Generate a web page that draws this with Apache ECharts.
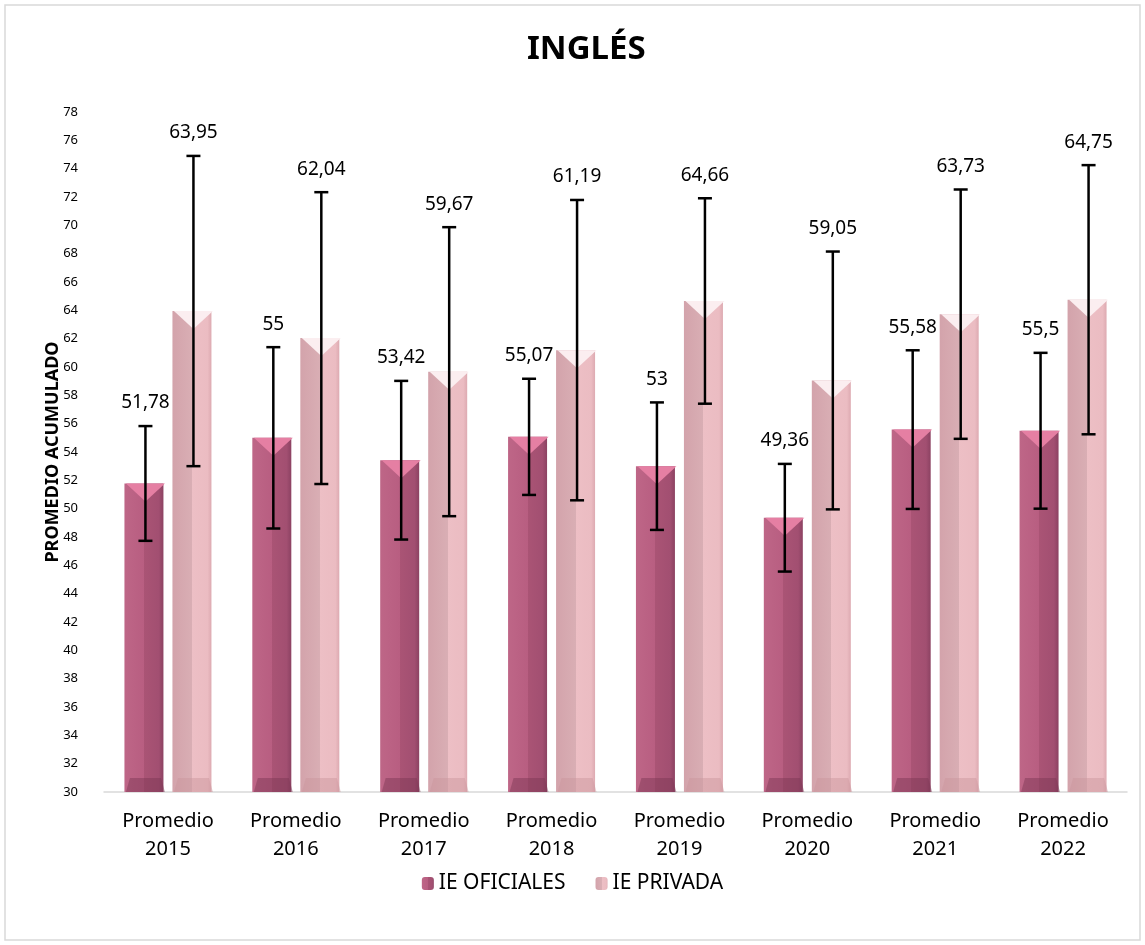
<!DOCTYPE html>
<html>
<head>
<meta charset="utf-8">
<script src="https://cdn.jsdelivr.net/npm/echarts@6/dist/echarts.min.js"></script>
<style>
html,body{margin:0;padding:0;background:#fff;}
#c{width:1145px;height:945px;}
</style>
</head>
<body>
<div id="c"></div>
<script>
var categories = ['Promedio\n2015','Promedio\n2016','Promedio\n2017','Promedio\n2018','Promedio\n2019','Promedio\n2020','Promedio\n2021','Promedio\n2022'];
var oficiales = [51.78, 55, 53.42, 55.07, 53, 49.36, 55.58, 55.5];
var oficialesErr = [4.05, 6.4, 5.6, 4.1, 4.5, 3.8, 5.6, 5.5];
var privada = [63.95, 62.04, 59.67, 61.19, 64.66, 59.05, 63.73, 64.75];
var privadaErr = [10.95, 10.3, 10.2, 10.6, 7.25, 9.1, 8.8, 9.5];
var labelsOf = ['51,78','55','53,42','55,07','53','49,36','55,58','55,5'];
var labelsPr = ['63,95','62,04','59,67','61,19','64,66','59,05','63,73','64,75'];

var FONT = 'Noto Sans';
var BAR_W = 39, GAP = 9;
var OFF = (BAR_W + GAP) / 2;

var colOf = {type:'linear',x:0,y:0,x2:1,y2:0,colorStops:[
  {offset:0,color:'#BE6687'},{offset:0.5,color:'#B85E81'},{offset:0.5,color:'#AA5475'},{offset:0.88,color:'#A24F71'},{offset:1,color:'#8C4262'}]};
var colPr = {type:'linear',x:0,y:0,x2:1,y2:0,colorStops:[
  {offset:0,color:'#D3A3AB'},{offset:0.5,color:'#D9AEB4'},{offset:0.5,color:'#EDBFC5'},{offset:0.9,color:'#EBBCC2'},{offset:1,color:'#DDAAB1'}]};

function overlay(vals, errs, labels, side, topCol, botCol){
  var data = vals.map(function(v,i){return [i, v, errs[i]];});
  return {
    type:'custom', z:5, silent:true,
    data:data,
    encode:{x:0,y:1},
    renderItem:function(params, api){
      var i = api.value(0), v = api.value(1), e = api.value(2);
      var p = api.coord([i, v]);
      var base = api.coord([i, 30]);
      var cx = p[0] + side*OFF + 1.5;
      var x0 = cx - BAR_W/2, x1 = cx + BAR_W/2;
      var yt = p[1], yb = base[1];
      var hi = api.coord([i, v+e])[1], lo = api.coord([i, v-e])[1];
      var lab = labels[params.dataIndex];
      return {type:'group', children:[
        {type:'polygon', shape:{points:[[x0,yt],[x1,yt],[cx,yt+18]]}, style:{fill:topCol}},
        {type:'polygon', shape:{points:[[x0,yb],[x1,yb],[x1-4,yb-14],[x0+4,yb-14]]}, style:{fill:botCol, opacity:0.45}},
        {type:'line', shape:{x1:cx,y1:hi,x2:cx,y2:lo}, style:{stroke:'#000',lineWidth:2.5}},
        {type:'line', shape:{x1:cx-7,y1:hi,x2:cx+7,y2:hi}, style:{stroke:'#000',lineWidth:2.5}},
        {type:'line', shape:{x1:cx-7,y1:lo,x2:cx+7,y2:lo}, style:{stroke:'#000',lineWidth:2.5}},
        {type:'text', x:cx, y:hi-23, style:{text:lab, fill:'#000', font:'19px "'+FONT+'"', align:'center', verticalAlign:'middle'}}
      ]};
    }
  };
}

var chart = echarts.init(document.getElementById('c'));
chart.setOption({
  animation:false,
  backgroundColor:'#fff',
  graphic:[{type:'rect', shape:{x:5,y:5,width:1135,height:935}, style:{fill:'none',stroke:'#D9D9D9',lineWidth:1.5}, z:-1}],
  title:{text:'INGLÉS', left:522, top:28, textStyle:{fontFamily:FONT, fontSize:33, fontWeight:'bold', color:'#000'}},
  legend:{top:868, left:'center', itemWidth:12, itemHeight:13, itemGap:30,
    textStyle:{fontFamily:FONT, fontSize:21, color:'#000'},
    data:['IE OFICIALES','IE PRIVADA']},
  grid:{left:104, right:18, top:112, bottom:153, containLabel:false},
  xAxis:{type:'category', data:categories,
    axisLine:{lineStyle:{color:'#D9D9D9', width:1.5}}, axisTick:{show:false},
    axisLabel:{fontFamily:FONT, fontSize:20, color:'#000', lineHeight:28, margin:15}},
  yAxis:{type:'value', min:30, max:78, interval:2,
    name:'PROMEDIO ACUMULADO', nameLocation:'middle', nameGap:42, nameRotate:90, nameMoveOverlap:false,
    nameTextStyle:{fontFamily:FONT, fontSize:18, fontWeight:'bold', color:'#000'},
    axisLine:{show:false}, axisTick:{show:false}, splitLine:{show:false},
    axisLabel:{fontFamily:FONT, fontSize:13, color:'#000', margin:26}},
  series:[
    {name:'IE OFICIALES', type:'bar', data:oficiales, barWidth:BAR_W, barGap:(GAP/BAR_W*100)+'%',
      itemStyle:{color:colOf}},
    {name:'IE PRIVADA', type:'bar', data:privada, barWidth:BAR_W,
      itemStyle:{color:colPr}},
    overlay(oficiales, oficialesErr, labelsOf, -1, '#E57FA3', '#7A3553'),
    overlay(privada, privadaErr, labelsPr, 1, '#FBEEF0', '#C9949C')
  ]
});
</script>
</body>
</html>
